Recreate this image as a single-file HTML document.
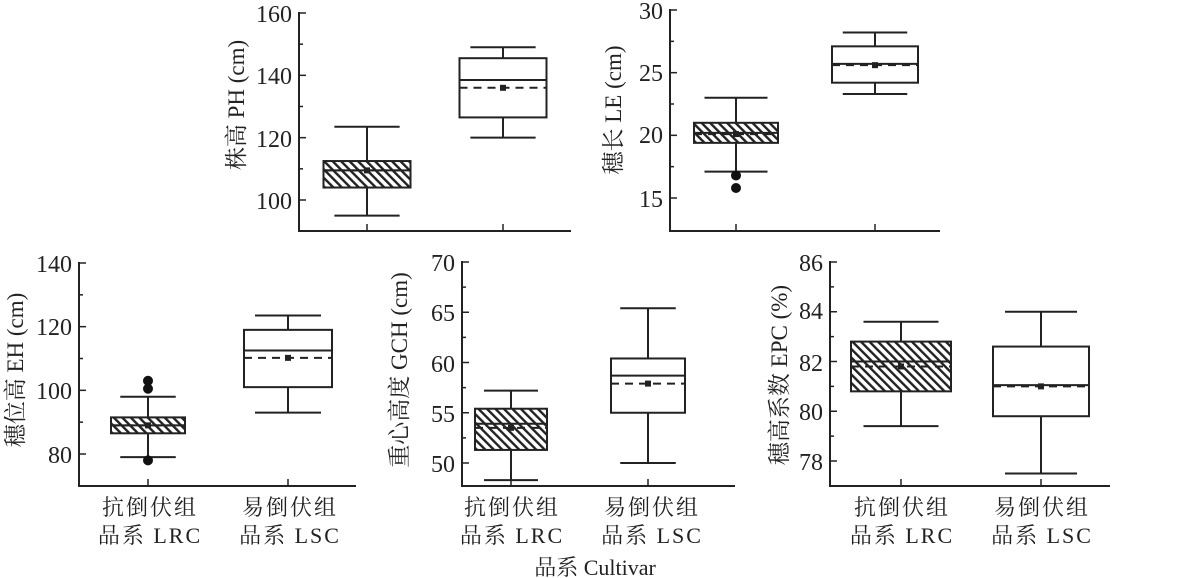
<!DOCTYPE html>
<html><head><meta charset="utf-8"><style>
html,body{margin:0;padding:0;background:#fff;width:1191px;height:578px;overflow:hidden}
text{font-family:"Liberation Serif","Noto Serif CJK SC",serif;fill:#222}
</style></head><body>
<svg id="s" width="1191" height="578" viewBox="0 0 1191 578" xmlns="http://www.w3.org/2000/svg">
<defs><pattern id="h" patternUnits="userSpaceOnUse" width="6" height="6" patternTransform="rotate(-45)"><rect width="6" height="6" fill="#fff"/><rect width="2.4" height="6" fill="#222"/></pattern></defs>
<g font-size="24" text-anchor="end">
<text x="292" y="22">160</text><text x="292" y="84">140</text><text x="292" y="147">120</text><text x="292" y="209">100</text>
<text x="663" y="19">30</text><text x="663" y="81">25</text><text x="663" y="143">20</text><text x="663" y="207">15</text>
<text x="72" y="272">140</text><text x="72" y="335">120</text><text x="72" y="399">100</text><text x="72" y="463">80</text>
<text x="455" y="271">70</text><text x="455" y="321">65</text><text x="455" y="372">60</text><text x="455" y="422">55</text><text x="455" y="472">50</text>
<text x="823" y="271">86</text><text x="823" y="319">84</text><text x="823" y="371">82</text><text x="823" y="420">80</text><text x="823" y="470">78</text>
</g>
<g font-size="23" text-anchor="middle">
<text transform="translate(244,105) rotate(-90)">株高 PH (cm)</text>
<text transform="translate(621,110) rotate(-90)">穗长 LE (cm)</text>
<text transform="translate(23,370) rotate(-90)">穗位高 EH (cm)</text>
<text transform="translate(407,370) rotate(-90)">重心高度 GCH (cm)</text>
<text transform="translate(787,375) rotate(-90)">穗高系数 EPC (%)</text>
</g>
<g font-size="22" text-anchor="middle" letter-spacing="2">
<text x="150" y="515">抗倒伏组</text><text x="150" y="543">品系 LRC</text>
<text x="290" y="515">易倒伏组</text><text x="290" y="543">品系 LSC</text>
<text x="512" y="515">抗倒伏组</text><text x="512" y="543">品系 LRC</text>
<text x="652" y="515">易倒伏组</text><text x="652" y="543">品系 LSC</text>
<text x="902" y="515">抗倒伏组</text><text x="902" y="543">品系 LRC</text>
<text x="1042" y="515">易倒伏组</text><text x="1042" y="543">品系 LSC</text>
<text x="595" y="575" letter-spacing="0">品系 Cultivar</text>
</g>
</svg>
<script>
const s=document.getElementById('s');const NS='http://www.w3.org/2000/svg';
function el(t,a){const e=document.createElementNS(NS,t);for(const k in a)e.setAttribute(k,a[k]);s.appendChild(e);return e}
function L(x1,y1,x2,y2,w,d){el('line',{x1,y1,x2,y2,stroke:'#222','stroke-width':w||2,'stroke-dasharray':d||'none'})}
const P=[
 {ax:299,right:571,bot:231,v0:160,y0:13,v1:100,y1:200,minor:10,lo:92.6,
  b:[{c:367,w:87,h:1,wl:95,wh:123.5,q1:104,q3:112.5,med:109.5,mean:109.5,o:[]},
     {c:503,w:87,h:0,wl:120,wh:149,q1:126.5,q3:145.5,med:138.5,mean:136,o:[]}]},
 {ax:670,right:940,bot:231,v0:30,y0:10,v1:15,y1:198,minor:2.5,lo:14,
  b:[{c:736,w:84,h:1,wl:17.1,wh:23,q1:19.4,q3:21,med:20.2,mean:20.1,o:[16.8,15.8]},
     {c:875,w:86,h:0,wl:23.3,wh:28.2,q1:24.2,q3:27.1,med:25.7,mean:25.6,o:[]}]},
 {ax:79,right:356,bot:486,v0:140,y0:263,v1:80,y1:454,minor:10,lo:73,
  b:[{c:148,w:74,h:1,wl:79,wh:98,q1:86.5,q3:91.5,med:89,mean:89,o:[103,100.5,78]},
     {c:288,w:88,h:0,wl:93,wh:123.5,q1:101,q3:119,med:112.5,mean:110.2,o:[]}]},
 {ax:462,right:735,bot:486,v0:70,y0:262,v1:50,y1:463,minor:2.5,lo:47.7,
  b:[{c:511,w:72,h:1,wl:48.3,wh:57.2,q1:51.3,q3:55.4,med:53.9,mean:53.5,o:[]},
     {c:648,w:74,h:0,wl:50,wh:65.4,q1:55,q3:60.4,med:58.7,mean:57.9,o:[]}]},
 {ax:830,right:1110,bot:486,v0:86,y0:262,v1:78,y1:461,minor:1,lo:77,
  b:[{c:901,w:100,h:1,wl:79.4,wh:83.6,q1:80.8,q3:82.8,med:82,mean:81.8,o:[]},
     {c:1041,w:96,h:0,wl:77.5,wh:84,q1:79.8,q3:82.6,med:81.05,mean:81,o:[]}]}
];
for(const p of P){
 const Y=v=>p.y0+(v-p.v0)*(p.y1-p.y0)/(p.v1-p.v0);
 L(p.ax,Y(p.v0)-1,p.ax,p.bot+1);L(p.ax-1,p.bot,p.right,p.bot);
 for(let v=p.v0;v>=p.lo-1e-6;v-=p.minor){const major=Math.abs(((p.v0-v)/(p.minor*2))%1)<1e-6;L(p.ax,Y(v),p.ax+(major?7:4),Y(v),1.5)}
 for(const b of p.b){
  L(b.c,p.bot,b.c,p.bot-7,1.5);
  const ww=b.w*0.75;
  L(b.c,Y(b.wl),b.c,Y(b.q1));L(b.c,Y(b.q3),b.c,Y(b.wh));
  L(b.c-ww/2,Y(b.wl),b.c+ww/2,Y(b.wl));L(b.c-ww/2,Y(b.wh),b.c+ww/2,Y(b.wh));
  el('rect',{x:b.c-b.w/2,y:Y(b.q3),width:b.w,height:Y(b.q1)-Y(b.q3),fill:b.h?'url(#h)':'#fff',stroke:'#222','stroke-width':2});
  L(b.c-b.w/2,Y(b.med),b.c+b.w/2,Y(b.med));
  L(b.c-b.w/2,Y(b.mean),b.c+b.w/2,Y(b.mean),2,'8,6');
  el('rect',{x:b.c-3,y:Y(b.mean)-3,width:6,height:6,fill:'#222'});
  for(const o of b.o)el('circle',{cx:b.c,cy:Y(o),r:5,fill:'#111'});
 }
}
</script>
</body></html>
